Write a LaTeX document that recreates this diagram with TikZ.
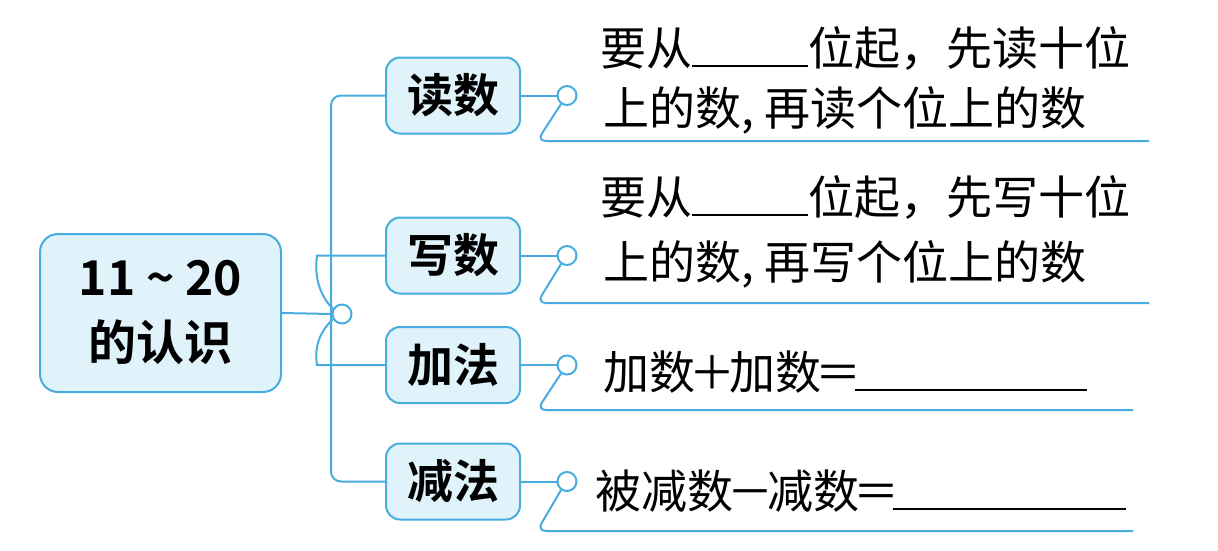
\documentclass[tikz,border=0pt]{standalone}
\usepackage{fontspec}
\newfontfamily\cjk{Noto Sans CJK SC}[BoldFont={Noto Sans CJK SC Bold}]
\usetikzlibrary{positioning}
\definecolor{mapblue}{RGB}{72,172,222}
\definecolor{mapfill}{RGB}{224,243,251}
\tikzset{
  ln/.style={mapblue, line width=2pt},
  topic/.style={draw=mapblue, fill=mapfill, line width=2pt, rounded corners=14pt,
                minimum width=134pt, minimum height=76pt, inner sep=0pt,
                font=\cjk\bfseries\fontsize{46}{50}\selectfont},
  rootbox/.style={topic, minimum width=241pt, minimum height=158pt, rounded corners=18pt,
                align=center, font=\cjk\bfseries\fontsize{48}{65}\selectfont},
  knot/.style={circle, draw=mapblue, fill=white, line width=2pt, minimum size=19pt, inner sep=0pt},
  note/.style={anchor=base west, inner sep=0pt, font=\cjk\fontsize{46}{50}\selectfont},
}
\newcommand{\blank}[1]{\rule[-2pt]{#1}{1.8pt}}
\newcommand{\op}[1]{\kern-6pt#1\kern-6pt}

\begin{document}
\begin{tikzpicture}[x=1pt,y=-1pt]
  \useasboundingbox (0,0) rectangle (1218,550);
  \node[rootbox] (root) at (160.5,313) {11 \textasciitilde{} 20\\的认识};
  \node[topic] (rd) at (453,95.5) {读数};
  \node[topic] (wr) at (453,255.5) {写数};
  \node[topic] (ad) at (453,365) {加法};
  \node[topic] (sb) at (453,481.5) {减法};
  % spine
  \coordinate (sp1) at (331,95.5); \coordinate (sp2) at (331,481.5);
  \draw[ln, rounded corners=10pt] (rd.west) -- (sp1) -- (sp2) -- (sb.west);
  \node[knot] (jn) at (342,314) {};
  \draw[ln] (root.east) -- (jn.west);
  \coordinate (lw) at (317,255.5); \coordinate (la) at (317,365);
  \draw[ln] (wr.west) -- (lw) .. controls (313,285) and (326,302) .. (jn.150);
  \draw[ln] (ad.west) -- (la) .. controls (313,340) and (326,326) .. (jn.210);
  % right side
  \node[knot] (c1) at (567,95.5) {};
  \node[knot] (c2) at (567,255.5) {};
  \node[knot] (c3) at (567,365) {};
  \node[knot] (c4) at (567,481.5) {};
  \coordinate (u1a) at (537,141); \coordinate (u1b) at (1149,141);
  \coordinate (u2a) at (537,303); \coordinate (u2b) at (1149,303);
  \coordinate (u3a) at (537,410); \coordinate (u3b) at (1133,410);
  \coordinate (u4a) at (537,531); \coordinate (u4b) at (1133,531);
  \draw[ln] (rd.east) -- (c1); \draw[ln, rounded corners=9pt] (c1.235) -- (u1a) -- (u1b);
  \draw[ln] (wr.east) -- (c2); \draw[ln, rounded corners=9pt] (c2.235) -- (u2a) -- (u2b);
  \draw[ln] (ad.east) -- (c3); \draw[ln, rounded corners=9pt] (c3.235) -- (u3a) -- (u3b);
  \draw[ln] (sb.east) -- (c4); \draw[ln, rounded corners=9pt] (c4.235) -- (u4a) -- (u4b);
  % notes
  \node[note] (t1) at (600,65) {要从\blank{116pt}位起，先读十位};
  \node[note] (t2) at (603,125) {上的数, 再读个位上的数};
  \node[note] (t3) at (600,214) {要从\blank{116pt}位起，先写十位};
  \node[note] (t4) at (603,279) {上的数, 再写个位上的数};
  \node[note] (t5) at (603,389) {加数\op{＋}加数\op{＝}\blank{232pt}};
  \node[note] (t6) at (595,508) {被减数\op{－}减数\op{＝}\blank{233pt}};
\end{tikzpicture}
\end{document}
